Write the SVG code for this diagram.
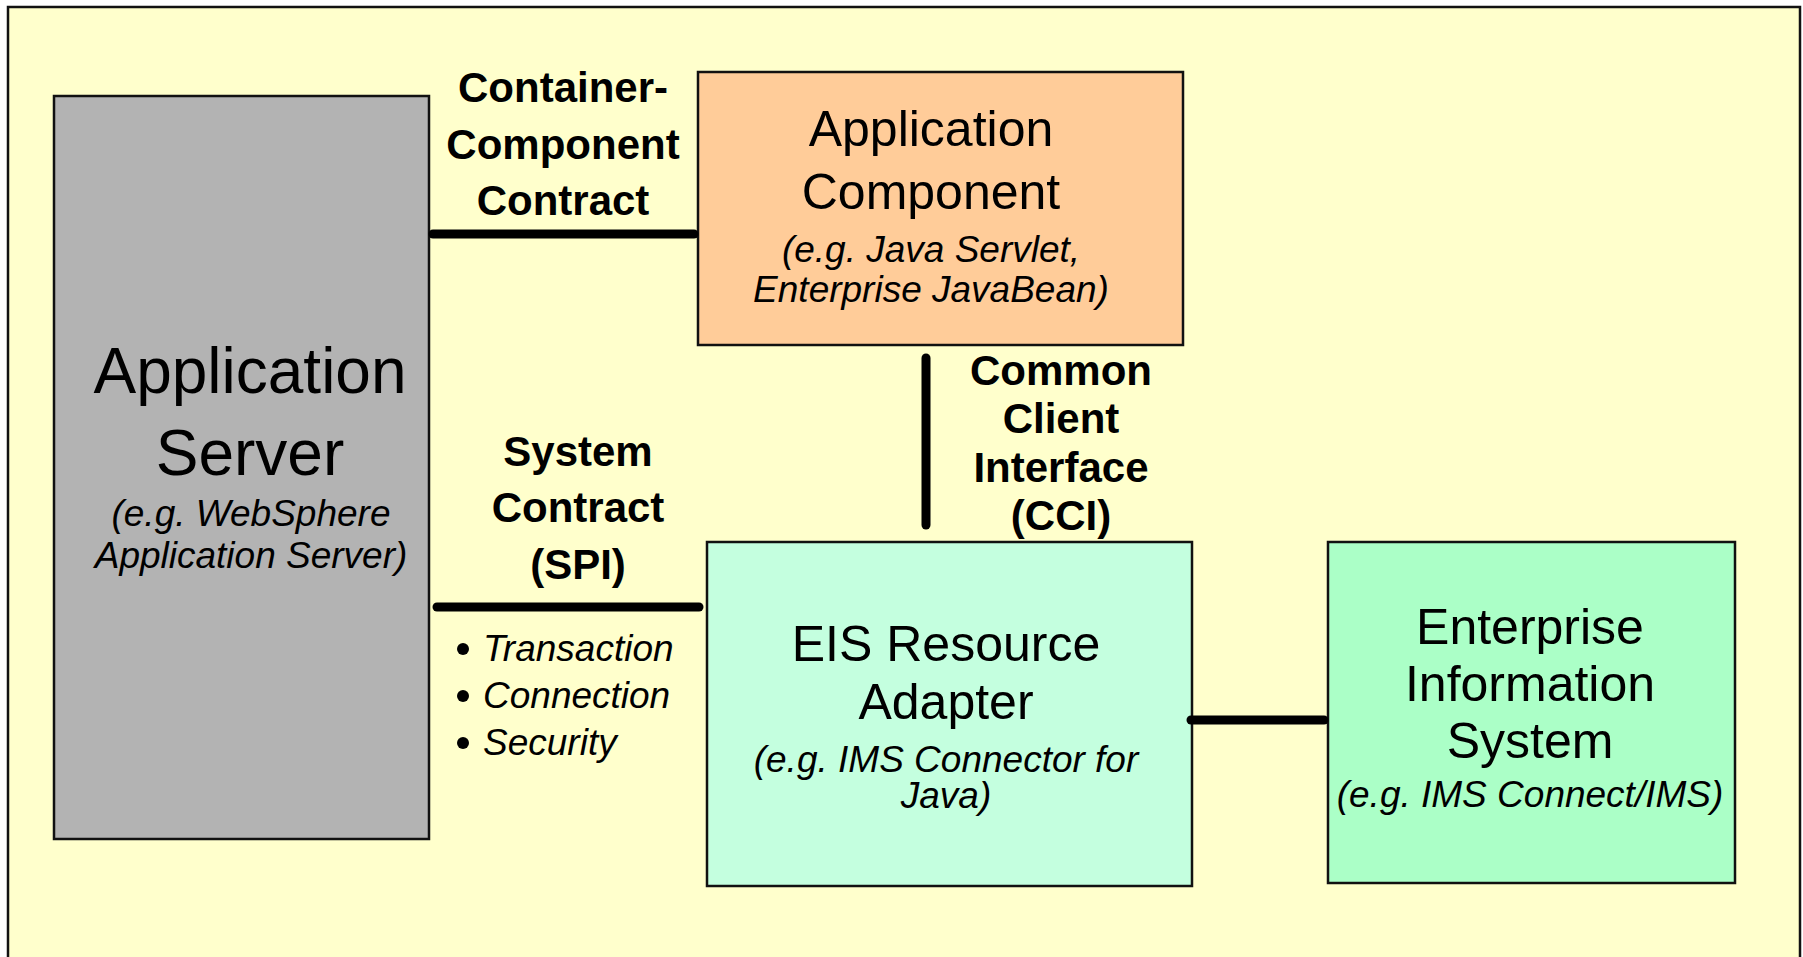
<svg xmlns="http://www.w3.org/2000/svg" width="1803" height="957" viewBox="0 0 1803 957">
<style>
  .box { stroke: #111; stroke-width: 2.5; }
  .conn { stroke: #000; stroke-width: 9; stroke-linecap: round; fill: none; }
  text { font-family: "Liberation Sans", Arial, sans-serif; fill: #000; text-anchor: middle; }
  .big { font-size: 64px; }
  .mid { font-size: 50px; }
  .it { font-size: 37px; font-style: italic; }
  .lbl { font-size: 42px; font-weight: bold; }
  .itl { font-size: 37px; font-style: italic; text-anchor: start; }
</style>
<rect x="0" y="0" width="1803" height="957" fill="#FFFFFF"/>
<rect x="8" y="7" width="1792" height="1000" fill="#FFFFCC" stroke="#111" stroke-width="2.5"/>

<g id="app-server">
  <rect class="box" x="54" y="96" width="375" height="743" fill="#B3B3B3"/>
  <text class="big" x="250" y="393">Application</text>
  <text class="big" x="250" y="475">Server</text>
  <text class="it" x="251" y="526">(e.g. WebSphere</text>
  <text class="it" x="251" y="568">Application Server)</text>
</g>

<g id="app-component">
  <rect class="box" x="698" y="72" width="485" height="273" fill="#FFCC99"/>
  <text class="mid" x="931" y="146">Application</text>
  <text class="mid" x="931" y="209">Component</text>
  <text class="it" x="931" y="262">(e.g. Java Servlet,</text>
  <text class="it" x="931" y="302">Enterprise JavaBean)</text>
</g>

<g id="resource-adapter">
  <rect class="box" x="707" y="542" width="485" height="344" fill="#C4FFDF"/>
  <text class="mid" x="946" y="661">EIS Resource</text>
  <text class="mid" x="946" y="719">Adapter</text>
  <text class="it" x="946" y="772">(e.g. IMS Connector for</text>
  <text class="it" x="946" y="808">Java)</text>
</g>

<g id="eis">
  <rect class="box" x="1328" y="542" width="407" height="341" fill="#ABFFC7"/>
  <text class="mid" x="1530" y="644">Enterprise</text>
  <text class="mid" x="1530" y="701">Information</text>
  <text class="mid" x="1530" y="758">System</text>
  <text class="it" x="1530" y="807">(e.g. IMS Connect/IMS)</text>
</g>

<g id="label-container-component">
  <text class="lbl" x="563" y="102">Container-</text>
  <text class="lbl" x="563" y="159">Component</text>
  <text class="lbl" x="563" y="215">Contract</text>
</g>

<g id="label-system-contract">
  <text class="lbl" x="578" y="466">System</text>
  <text class="lbl" x="578" y="522">Contract</text>
  <text class="lbl" x="578" y="579">(SPI)</text>
  <circle cx="463" cy="649" r="6" fill="#000"/>
  <circle cx="463" cy="696" r="6" fill="#000"/>
  <circle cx="463" cy="743" r="6" fill="#000"/>
  <text class="itl" x="483" y="661">Transaction</text>
  <text class="itl" x="483" y="708">Connection</text>
  <text class="itl" x="483" y="755">Security</text>
</g>

<g id="label-cci">
  <text class="lbl" x="1061" y="385">Common</text>
  <text class="lbl" x="1061" y="433">Client</text>
  <text class="lbl" x="1061" y="482">Interface</text>
  <text class="lbl" x="1061" y="530">(CCI)</text>
</g>

<g id="connectors">
  <line class="conn" x1="433" y1="234" x2="694" y2="234"/>
  <line class="conn" x1="437" y1="607" x2="699" y2="607"/>
  <line class="conn" x1="926" y1="358" x2="926" y2="525"/>
  <line class="conn" x1="1191" y1="720" x2="1324" y2="720"/>
</g>
</svg>
